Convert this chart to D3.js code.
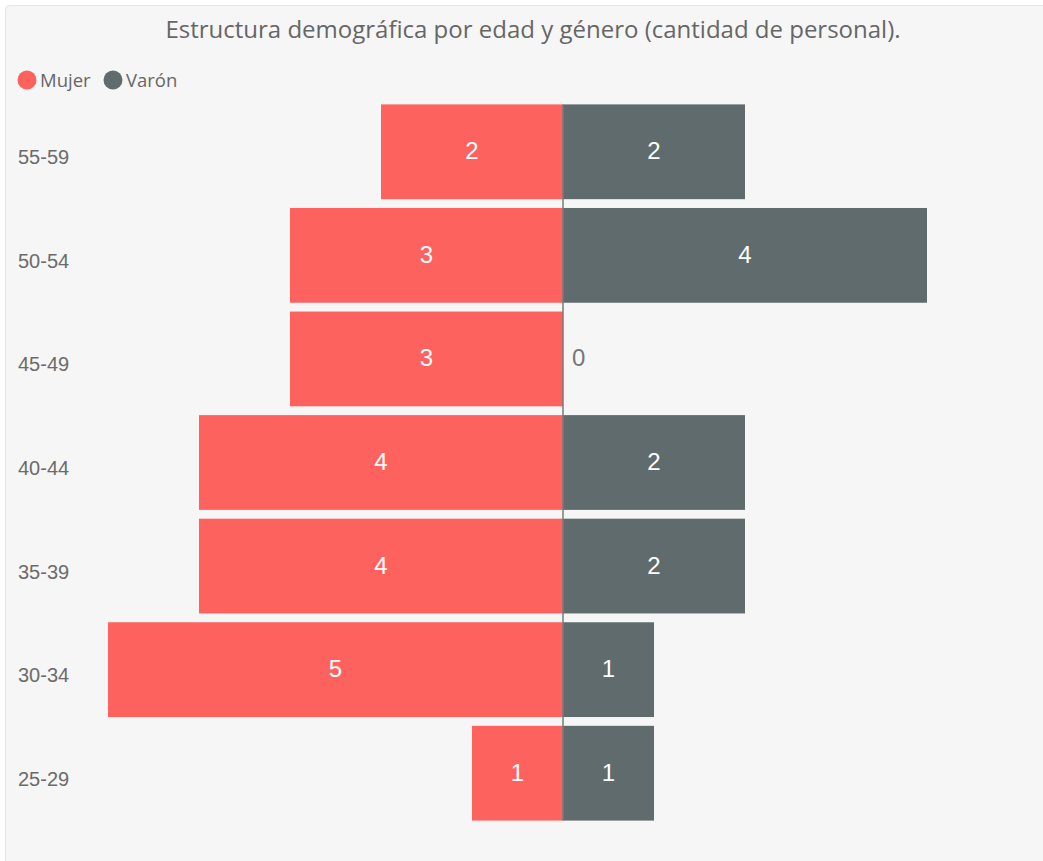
<!DOCTYPE html>
<html>
<head>
<meta charset="utf-8">
<script src="https://cdn.jsdelivr.net/npm/d3@7"></script>
<style>
  body { margin: 0; background: #fff; }
  #chart { width: 1043px; height: 861px; }
</style>
</head>
<body>
<div id="chart"></div>
<script>
// data
const ageGroups = ["55-59", "50-54", "45-49", "40-44", "35-39", "30-34", "25-29"];
const mujer = [2, 3, 3, 4, 4, 5, 1];
const varon = [2, 4, 0, 2, 2, 1, 1];
const seriesNames = ["Mujer", "Varón"];
const seriesColors = ["#fd625e", "#5f6b6d"];

let width = 1043, height = 861;

const svg = d3.select("#chart")
  .append("svg")
  .attr("width", width)
  .attr("height", height);

// panel
svg.append("rect")
  .attr("x", 5.5).attr("y", 5.5)
  .attr("width", width + 10).attr("height", height + 10)
  .attr("rx", 4)
  .attr("fill", "#f6f6f6")
  .attr("stroke", "#e4e4e4");

svg.append("text")
  .attr("x", 533).attr("y", 38)
  .attr("text-anchor", "middle")
  .attr("font-family", "'Open Sans', 'Noto Sans', sans-serif")
  .attr("font-size", 24)
  .attr("fill", "#666")
  .text("Estructura demográfica por edad y género (cantidad de personal).");

// legend
const legendX = [27, 113];
seriesNames.forEach((name, i) => {
  svg.append("circle")
    .attr("cx", legendX[i]).attr("cy", 80).attr("r", 9.5)
    .attr("fill", seriesColors[i]);
  svg.append("text")
    .attr("x", legendX[i] + 13).attr("y", 87)
    .attr("font-family", "'Open Sans', 'Noto Sans', sans-serif")
    .attr("font-size", 18.5)
    .attr("fill", "#666")
    .text(name);
});

let x = d3.scaleLinear()
  .domain([-5, 5])
  .range([108, 1018]);

let y = d3.scaleBand()
  .domain(ageGroups)
  .range([100, 825])
  .paddingInner(0.085)
  .paddingOuter(0.0425);

// category labels
svg.append("g")
  .selectAll("text")
  .data(ageGroups)
  .join("text")
  .attr("x", 18)
  .attr("y", d => y(d) + y.bandwidth() / 2 + 12.5)
  .attr("font-family", "'Liberation Sans', Arial, sans-serif")
  .attr("font-size", 20)
  .attr("fill", "#6b6b6b")
  .text(d => d);

const rows = ageGroups.map((g, i) => ({ group: g, m: mujer[i], v: varon[i] }));

// Mujer bars (left)
svg.append("g")
  .selectAll("rect")
  .data(rows)
  .join("rect")
  .attr("x", d => x(-d.m))
  .attr("y", d => y(d.group))
  .attr("width", d => x(0) - x(-d.m))
  .attr("height", y.bandwidth())
  .attr("fill", seriesColors[0]);

// Varón bars (right)
svg.append("g")
  .selectAll("rect")
  .data(rows)
  .join("rect")
  .attr("x", x(0))
  .attr("y", d => y(d.group))
  .attr("width", d => x(d.v) - x(0))
  .attr("height", y.bandwidth())
  .attr("fill", seriesColors[1]);

// center axis line
svg.append("line")
  .attr("x1", x(0)).attr("x2", x(0))
  .attr("y1", y(ageGroups[0]))
  .attr("y2", y(ageGroups[ageGroups.length - 1]) + y.bandwidth())
  .attr("stroke", "#7a7a7a")
  .attr("stroke-width", 1.5);

// value labels
const labelFont = "'Liberation Sans', Arial, sans-serif";
svg.append("g")
  .selectAll("text")
  .data(rows)
  .join("text")
  .attr("x", d => (x(-d.m) + x(0)) / 2)
  .attr("y", d => y(d.group) + y.bandwidth() / 2 + 7.5)
  .attr("text-anchor", "middle")
  .attr("font-family", labelFont)
  .attr("font-size", 24)
  .attr("fill", "#fff")
  .text(d => d.m);

svg.append("g")
  .selectAll("text")
  .data(rows)
  .join("text")
  .attr("x", d => d.v > 0 ? (x(0) + x(d.v)) / 2 : x(0) + 9)
  .attr("y", d => y(d.group) + y.bandwidth() / 2 + 7.5)
  .attr("text-anchor", d => d.v > 0 ? "middle" : "start")
  .attr("font-family", labelFont)
  .attr("font-size", 24)
  .attr("fill", d => d.v > 0 ? "#fff" : "#777")
  .text(d => d.v);
</script>
</body>
</html>
